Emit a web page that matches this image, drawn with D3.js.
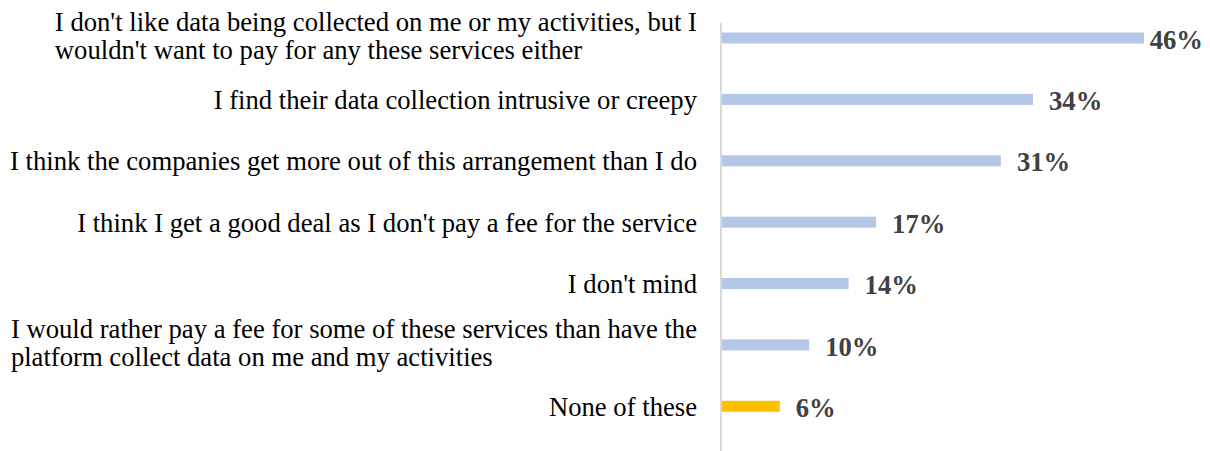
<!DOCTYPE html>
<html>
<head>
<meta charset="utf-8">
<script src="https://cdn.jsdelivr.net/npm/d3@7.9.0/dist/d3.min.js"></script>
<style>
  html, body { margin: 0; padding: 0; background: #fff; }
  svg { display: block; }
</style>
</head>
<body>
<div id="chart"></div>
<script>
// categories, top to bottom (line breaks as in the original)
const categories = [
  "I don't like data being collected on me or my activities, but I\nwouldn't want to pay for any these services either",
  "I find their data collection intrusive or creepy",
  "I think the companies get more out of this arrangement than I do",
  "I think I get a good deal as I don't pay a fee for the service",
  "I don't mind",
  "I would rather pay a fee for some of these services than have the\nplatform collect data on me and my activities",
  "None of these"
];
// bar lengths (percent)
const values = [46.0, 33.9, 30.4, 16.8, 13.8, 9.5, 6.3];
// printed value labels
const valueLabels = ['46%', '34%', '31%', '17%', '14%', '10%', '6%'];
// which rows are highlighted
const highlight = [false, false, false, false, false, false, true];

const width = 1210;
const height = 451;
const fontFamily = '"Liberation Serif", "Times New Roman", serif';

const svg = d3.select('#chart')
  .append('svg')
  .attr('width', width)
  .attr('height', height);

const xScale = d3.scaleLinear()
  .domain([0, 50])
  .range([722, 722 + 50 * 9.174]);

const yScale = d3.scaleBand()
  .domain(d3.range(categories.length))
  .range([7.3, 437])
  .paddingInner(0.82)
  .paddingOuter(0.41);

// bars
svg.append('g')
  .attr('class', 'bars')
  .selectAll('rect')
  .data(values)
  .join('rect')
  .attr('x', xScale(0))
  .attr('y', (d, i) => yScale(i))
  .attr('width', (d) => xScale(d) - xScale(0))
  .attr('height', yScale.bandwidth())
  .attr('fill', (d, i) => highlight[i] ? '#ffc000' : '#b4c7e7');

// vertical axis line
svg.append('line')
  .attr('x1', 721).attr('x2', 721)
  .attr('y1', 22.7).attr('y2', height)
  .attr('stroke', '#d9d9d9')
  .attr('stroke-width', 2);

// category labels
const cats = svg.append('g')
  .attr('class', 'cats')
  .selectAll('text')
  .data(categories)
  .join('text')
  .attr('x', 697)
  .attr('y', (d, i) => yScale(i) + yScale.bandwidth() / 2)
  .attr('text-anchor', 'end')
  .style('font-family', fontFamily)
  .style('font-size', '26.67px')
  .attr('fill', '#000');

cats.each(function (d) {
  const lines = d.split('\n');
  const t = d3.select(this);
  if (lines.length === 1) {
    t.append('tspan').attr('x', 697).attr('dy', 9.5).text(lines[0]);
  } else {
    // two-line labels are left aligned as a block
    t.attr('text-anchor', 'start');
    t.append('tspan').attr('x', 0).attr('dy', -6.7).text(lines[0]);
    t.append('tspan').attr('x', 0).attr('dy', 28).text(lines[1]);
  }
});

// right-align the two-line blocks so the longest line ends at 697
cats.filter((d) => d.includes('\n')).each(function () {
  const w = this.getBBox().width;
  d3.select(this).selectAll('tspan').attr('x', 697 - w);
});

// value labels
svg.append('g')
  .attr('class', 'values')
  .selectAll('text')
  .data(values)
  .join('text')
  .attr('y', (d, i) => yScale(i) + yScale.bandwidth() / 2 + 10.7)
  .style('font-family', fontFamily)
  .style('font-size', '26.67px')
  .style('font-weight', 'bold')
  .attr('fill', '#404040')
  .text((d, i) => valueLabels[i])
  .attr('x', function (d) {
    const w = this.getComputedTextLength();
    return Math.min(xScale(d) + 16, width - 7 - w);
  });
</script>
</body>
</html>
